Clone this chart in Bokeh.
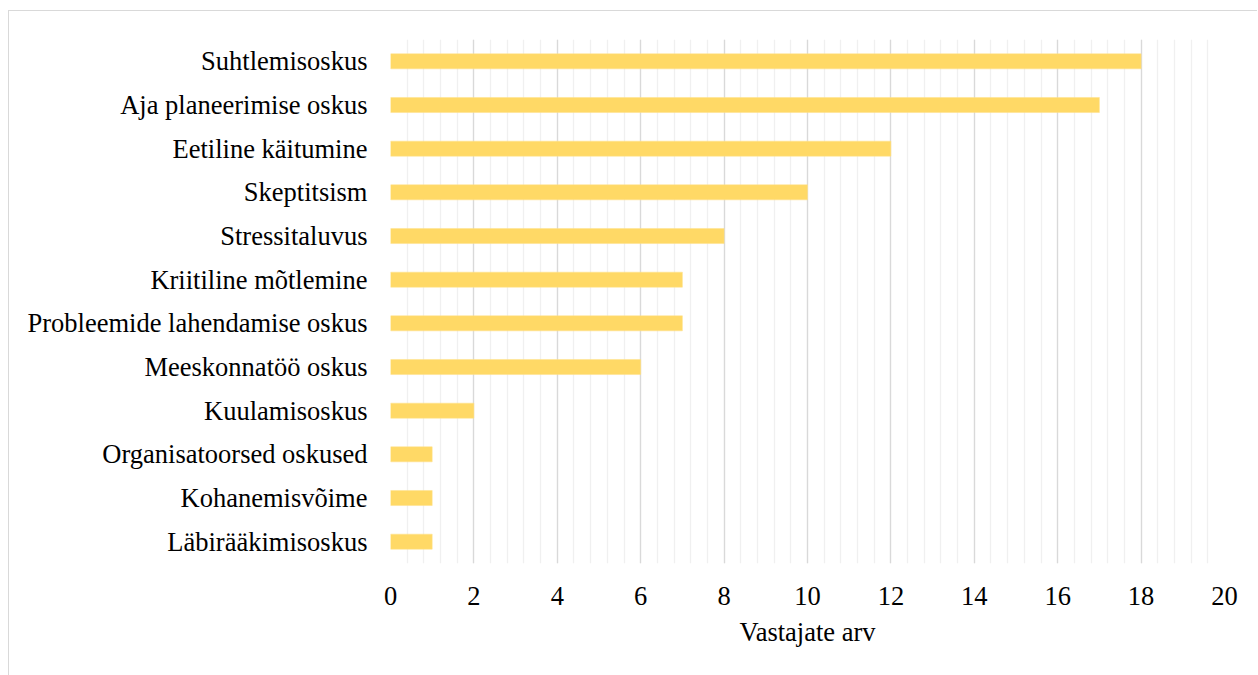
from bokeh.plotting import figure
from bokeh.models import FactorRange, Range1d, SingleIntervalTicker, ColumnDataSource
from bokeh.embed import file_html
from bokeh.resources import INLINE

# Skills named by respondents, listed from most to least frequent
skills = [
    "Suhtlemisoskus",
    "Aja planeerimise oskus",
    "Eetiline käitumine",
    "Skeptitsism",
    "Stressitaluvus",
    "Kriitiline mõtlemine",
    "Probleemide lahendamise oskus",
    "Meeskonnatöö oskus",
    "Kuulamisoskus",
    "Organisatoorsed oskused",
    "Kohanemisvõime",
    "Läbirääkimisoskus",
]
counts = [18, 17, 12, 10, 8, 7, 7, 6, 2, 1, 1, 1]

x_title = "Vastajate arv"
x_max = 20

FONT = "Liberation Serif"
FONT_SIZE = "26.5px"

source = ColumnDataSource(data=dict(skill=skills, count=counts))

p = figure(
    width=1249,
    height=665,
    y_range=FactorRange(factors=skills[::-1], range_padding=0),
    x_range=Range1d(0, x_max),
    output_backend="svg",
    toolbar_location=None,
    min_border_left=381,
    min_border_right=34,
    min_border_top=28,
    min_border_bottom=113,
)
p.styles = {
    "margin-left": "8px",
    "margin-top": "10px",
    "border-left": "1.5px solid #d9d9d9",
    "border-top": "1.5px solid #d9d9d9",
}

p.hbar(y="skill", right="count", left=0, height=0.345, source=source,
       fill_color="#FFD966", line_color="#FFE08A", line_width=0.5)

p.outline_line_color = None
p.background_fill_color = "white"
p.border_fill_color = "white"

# x axis: major every 2, four lighter minor lines between
ticker = SingleIntervalTicker(interval=2, num_minor_ticks=5)
p.xaxis.ticker = ticker
p.xgrid.ticker = ticker
p.xgrid.grid_line_color = "#D9D9D9"
p.xgrid.grid_line_width = 1.3
p.xgrid.minor_grid_line_color = "#F0F0F0"
p.xgrid.minor_grid_line_width = 1.3
p.ygrid.grid_line_color = None

for ax in (p.xaxis, p.yaxis):
    ax.axis_line_color = None
    ax.major_tick_line_color = None
    ax.minor_tick_line_color = None
    ax.major_label_text_font = FONT
    ax.major_label_text_font_size = FONT_SIZE
    ax.major_label_text_color = "#000000"

p.yaxis.major_label_standoff = 17
p.xaxis.major_label_standoff = 17
p.xaxis.axis_label = x_title
p.xaxis.axis_label_text_font = FONT
p.xaxis.axis_label_text_font_size = FONT_SIZE
p.xaxis.axis_label_text_font_style = "normal"
p.xaxis.axis_label_text_color = "#000000"
p.xaxis.axis_label_standoff = 9

open("out.html", "w").write(file_html(p, INLINE))
